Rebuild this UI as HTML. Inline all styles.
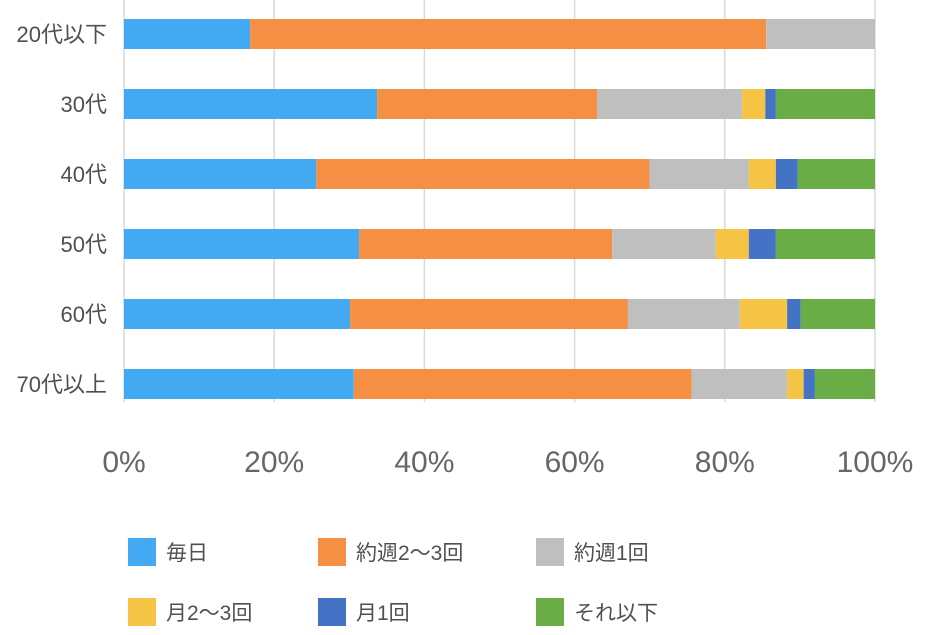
<!DOCTYPE html>
<html><head><meta charset="utf-8"><style>
body{margin:0;background:#fff;width:927px;height:630px;overflow:hidden;font-family:"Liberation Sans","Noto Sans CJK JP",sans-serif;}
</style></head><body>
<svg id="chart" width="927" height="630" xmlns="http://www.w3.org/2000/svg"></svg>
<script>
const categories = ["20代以下","30代","40代","50代","60代","70代以上"];
const seriesNames = ["毎日","約週2〜3回","約週1回","月2〜3回","月1回","それ以下"];
const s_daily = [16.8,33.7,25.6,31.3,30.1,30.6];
const s_week23 = [68.7,29.3,44.4,33.7,37.0,45.0];
const s_week1 = [14.5,19.3,13.2,13.8,14.9,12.7];
const s_month23 = [0,3.1,3.6,4.4,6.3,2.2];
const s_month1 = [0,1.4,2.9,3.6,1.8,1.5];
const s_less = [0,13.2,10.3,13.2,9.9,8.0];
const tickLabels = ["0%","20%","40%","60%","80%","100%"];
const tickValues = [0,20,40,60,80,100];

const colors = ["#42a9f2","#f58f44","#bfbfbf","#f5c444","#4472c4","#6aac46"];
const series = [s_daily,s_week23,s_week1,s_month23,s_month1,s_less];
const NS="http://www.w3.org/2000/svg";
const svg=document.getElementById('chart');
const x0=124,x1=875;
const xs=v=>x0+(x1-x0)*v/100;
const yc=i=>34+i*70;
const bh=30;
function mk(t,a){const e=document.createElementNS(NS,t);for(const k in a)e.setAttribute(k,a[k]);svg.appendChild(e);return e;}
tickValues.forEach((v,i)=>{
  const g=mk('line',{x1:xs(v),x2:xs(v),y1:0,y2:402,stroke:'#d9d9d9','stroke-width':1.5});
  
  
  const t=mk('text',{x:xs(v),y:472,'text-anchor':'middle','font-size':30,fill:'#666'});
  t.textContent=tickLabels[i];
  
  
});
categories.forEach((c,i)=>{
  const t=mk('text',{x:107,y:yc(i)+8,'text-anchor':'end','font-size':22,fill:'#505050'});
  t.textContent=c;
  
  
  let acc=0;
  series.forEach((s,j)=>{
    const v=s[i];
    if(v>0){
      const r=mk('rect',{x:xs(acc),y:yc(i)-bh/2,width:xs(acc+v)-xs(acc),height:bh,fill:colors[j]});
      
      
    }
    acc+=v;
  });
});
const lx=[128,318,536];
seriesNames.forEach((n,j)=>{
  const x=lx[j%3],y=j<3?552:612;
  const r=mk('rect',{x:x,y:y-14,width:28,height:28,fill:colors[j]});
  
  
  const t=mk('text',{x:x+38,y:y+8,'font-size':21,fill:'#505050'});
  t.textContent=n;
  
  
});
</script>
</body></html>
